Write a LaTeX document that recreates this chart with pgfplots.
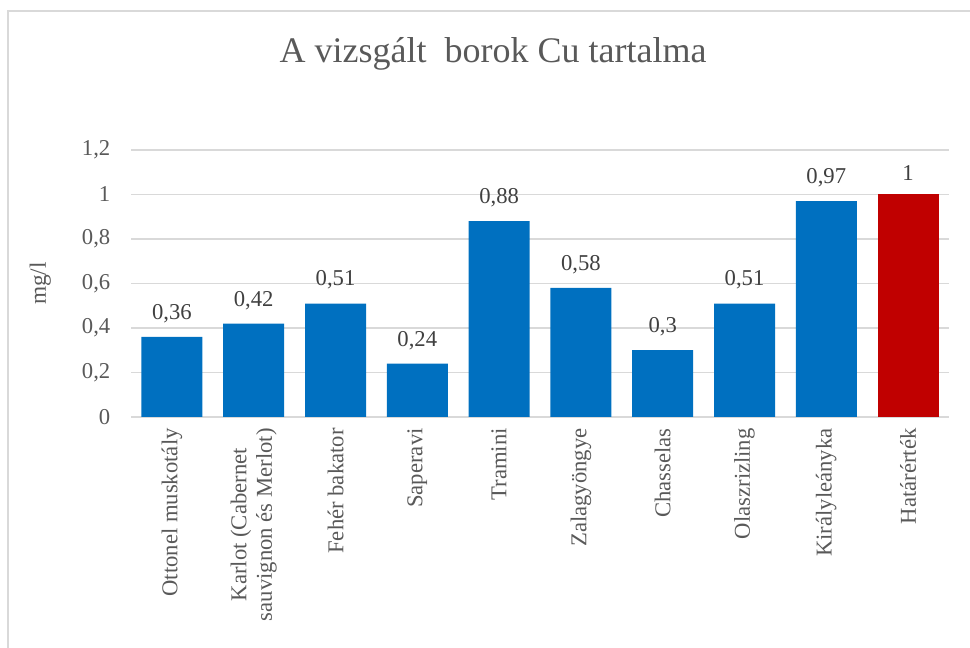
\documentclass[border=0pt]{standalone}
\usepackage{fontspec}
\setmainfont{Liberation Serif}
\usepackage{pgfplots}
\pgfplotsset{compat=1.18}
\definecolor{barblue}{HTML}{0070C0}
\definecolor{barred}{HTML}{C00000}
\definecolor{gridgray}{HTML}{D9D9D9}
\definecolor{ticktext}{HTML}{595959}
\definecolor{valtext}{HTML}{404040}
\begin{document}
\begin{tikzpicture}[x=0.75pt,y=0.75pt]
\useasboundingbox (0,0) rectangle (970,648);
% outer chart frame (only top and left edges visible)
\draw[gridgray, line width=1.5pt] (8,0) -- (8,637) -- (970,637);
\node[text=ticktext, font=\fontsize{27}{32}\selectfont] at (493,594) {A vizsgált\ \ borok Cu tartalma};
\begin{axis}[
    at={(98.25pt,173.25pt)}, anchor=south west,
    scale only axis,
    width=613.5pt, height=200.25pt,
    ybar, bar width=45.75pt,
    xmin=-0.5, xmax=9.5,
    ymin=0, ymax=1.2,
    ytick={0,0.2,0.4,0.6,0.8,1,1.2},
    xtick={0,...,9},
    xticklabels={Ottonel muskotály, {Karlot (Cabernet\\sauvignon és Merlot)}, Fehér bakator, Saperavi, Tramini, Zalagyöngye, Chasselas, Olaszrizling, Királyleányka, Határérték},
    axis x line*=bottom, axis y line*=left,
    x axis line style={gridgray, line width=1pt},
    y axis line style={draw=none},
    ymajorgrids, grid style={gridgray, line width=1pt},
    major tick length=0pt,
    xticklabel style={rotate=90, anchor=east, align=center, text=ticktext, font=\fontsize{17}{19}\selectfont, xshift=-5pt},
    yticklabel style={text=ticktext, font=\fontsize{17}{20}\selectfont, xshift=-12pt},
    ylabel={mg/l},
    ylabel style={at={(axis description cs:0,0.5)}, anchor=center, yshift=68pt, text=ticktext, font=\fontsize{17.5}{20}\selectfont},
    /pgf/number format/use comma,
    /pgf/number format/assume math mode=true,
    nodes near coords,
    nodes near coords style={text=valtext, font=\fontsize{17}{20}\selectfont, yshift=7pt},
    every axis plot/.append style={draw=none, bar shift=0pt},
]
\addplot[fill=barblue] coordinates {
    (0,0.36) (1,0.42) (2,0.51) (3,0.24) (4,0.88)
    (5,0.58) (6,0.30) (7,0.51) (8,0.97)
};
\addplot[fill=barred] coordinates {(9,1)};
\end{axis}
\end{tikzpicture}
\end{document}
